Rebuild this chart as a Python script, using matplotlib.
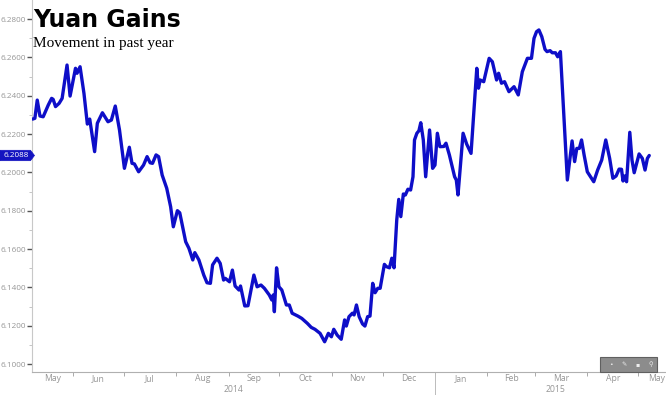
import matplotlib
matplotlib.use("Agg")
import matplotlib.pyplot as plt
import matplotlib.dates as mdates
from matplotlib.patches import Polygon, Rectangle
from matplotlib.transforms import blended_transform_factory, ScaledTranslation
import numpy as np
import pandas as pd

# ---------------- data ----------------
start_date = "2014-05-08"
days = [0.3,1.6,3.0,4.6,6.5,9.5,11.5,12.4,13.8,15.9,
        17.7,20.6,22.4,25.6,26.5,28.3,30.6,32.6,34.0,36.9,
        38.5,41.5,44.8,46.8,49.1,51.6,54.5,57.4,59.0,60.4,
        62.9,65.8,67.9,69.7,71.1,73.2,74.7,76.8,79.5,81.8,
        83.4,85.8,87.2,90.7,92.6,94.9,96.1,98.5,101.4,103.3,
        105.3,106.6,109.2,111.1,113.1,114.1,116.6,118.3,119.9,122.2,
        123.1,125.6,127.5,131.0,132.9,135.2,137.2,140.1,141.6,142.4,
        143.1,144.4,145.8,147.5,150.2,151.9,153.6,157.0,159.3,162.6,
        164.9,167.1,170.1,172.8,175.0,176.8,178.2,180.2,182.6,184.6,
        185.6,187.2,189.2,190.2,191.6,193.2,195.2,196.6,198.2,199.6,
        201.2,202.6,204.2,205.6,208.1,209.3,211.1,212.5,213.8,215.4,
        216.6,217.8,219.3,220.5,222.0,223.6,225.0,225.9,227.3,228.5,
        229.6,231.1,232.5,234.8,236.6,238.0,239.4,240.9,243.2,244.5,
        246.5,249.6,250.6,251.6,254.6,256.7,259.3,262.7,263.7,264.7,
        266.8,270.0,271.9,274.4,275.6,277.3,279.1,281.7,284.7,287.2,
        289.6,292.6,295.0,296.5,298.0,299.4,301.1,303.0,304.2,306.0,
        307.3,309.2,310.5,312.1,
        316.2,319.0,320.5,321.8,323.3,324.6,326.1,328.0,331.8,334.1,
        336.5,338.9,341.2,343.1,345.0,346.8,348.2,349.1,350.1,351.2,
        353.1,354.4,355.7,358.6,360.5,362.1,363.5,364.6]

rate = [6.2278,6.2282,6.2377,6.2294,6.2290,6.2351,6.2386,6.2381,6.2343,6.2360,
        6.2386,6.2560,6.2398,6.2543,6.2517,6.2551,6.2412,6.2252,6.2278,6.2108,
        6.2256,6.2311,6.2264,6.2273,6.2346,6.2221,6.2021,6.2131,6.2047,6.2044,
        6.2003,6.2038,6.2082,6.2050,6.2047,6.2091,6.2082,6.1986,6.1917,6.1821,
        6.1716,6.1800,6.1789,6.1638,6.1604,6.1543,6.1581,6.1543,6.1464,6.1424,
        6.1421,6.1517,6.1552,6.1525,6.1438,6.1447,6.1429,6.1490,6.1407,6.1386,
        6.1407,6.1303,6.1304,6.1464,6.1403,6.1412,6.1395,6.1360,6.1334,6.1360,
        6.1273,6.1502,6.1403,6.1386,6.1308,6.1308,6.1265,6.1250,6.1238,6.1212,
        6.1191,6.1181,6.1160,6.1116,6.1160,6.1142,6.1181,6.1151,6.1129,6.1230,
        6.1198,6.1247,6.1265,6.1256,6.1308,6.1247,6.1209,6.1198,6.1247,6.1250,
        6.1421,6.1372,6.1395,6.1395,6.1520,6.1508,6.1502,6.1552,6.1502,6.1751,
        6.1859,6.1769,6.1887,6.1882,6.1912,6.1908,6.1977,6.2169,6.2204,6.2217,
        6.2259,6.2169,6.1977,6.2221,6.2021,6.2038,6.2204,6.2134,6.2135,6.2152,
        6.2091,6.1977,6.1960,6.1882,6.2204,6.2148,6.2099,6.2543,6.2439,6.2482,
        6.2473,6.2595,6.2577,6.2482,6.2517,6.2465,6.2473,6.2421,6.2447,6.2404,
        6.2525,6.2595,6.2595,6.2699,6.2734,6.2743,6.2708,6.2642,6.2630,6.2635,
        6.2624,6.2624,6.2603,6.2630,
        6.1960,6.2164,6.2056,6.2125,6.2125,6.2169,6.2091,6.2003,6.1951,6.2012,
        6.2064,6.2169,6.2073,6.1969,6.1981,6.2017,6.2016,6.1955,6.1981,6.1951,
        6.2209,6.2064,6.1998,6.2096,6.2073,6.2012,6.2073,6.2088]

last_value = 6.2088
title = "Yuan Gains"
subtitle = "Movement in past year"
month_names = ["May", "Jun", "Jul", "Aug", "Sep", "Oct", "Nov", "Dec",
               "Jan", "Feb", "Mar", "Apr", "May"]
year_labels = ["2014", "2015"]
y_ticks = [6.10, 6.12, 6.14, 6.16, 6.18, 6.20, 6.22, 6.24, 6.26, 6.28]

# ---------------- figure ----------------
W, H = 666, 395
fig = plt.figure(figsize=(W / 100, H / 100), dpi=100)
fig.patch.set_facecolor("white")

ax_left, ax_right, ax_bottom, ax_top = 32, 676, 372, 0
ax = fig.add_axes([ax_left / W, (H - ax_bottom) / H,
                   (ax_right - ax_left) / W, (ax_bottom - ax_top) / H])
ax.set_facecolor("white")

t0 = pd.Timestamp(start_date)
x = t0 + pd.to_timedelta(days, unit="D")
ax.plot(x, rate, color="#0e0ec8", lw=2.4, solid_joinstyle="round",
        solid_capstyle="round", zorder=3)

xmin = t0 - pd.Timedelta(days=0.1)
xmax = t0 + pd.Timedelta(days=380.4)
ax.set_xlim(xmin, xmax)
ax.set_ylim(6.09583, 6.28993)

tick_font = "Open Sans"
gray = "#969696"
fs_y = 5.85
fs = 6.2

# y axis
ax.set_yticks(y_ticks)
ax.set_yticklabels([f"{v:.4f}" for v in y_ticks], fontsize=fs_y,
                   color=gray, family=tick_font)
ax.set_yticks([v + 0.01 for v in y_ticks[:-1]], minor=True)
ax.tick_params(axis="y", which="major", length=3.5, width=1.0,
               color="#555555", pad=1.0, direction="out")
ax.tick_params(axis="y", which="minor", length=2.5, width=0.6,
               color="#bbbbbb", direction="out")

# x axis: month boundaries as ticks, labels centred in month spans
month_starts = pd.date_range("2014-06-01", "2015-05-01", freq="MS")
ax.set_xticks(month_starts)
ax.set_xticklabels([])
ax.tick_params(axis="x", which="major", length=3, width=0.7,
               color="#aaaaaa", direction="out")
ax.tick_params(axis="x", which="minor", length=0)

bounds = [xmin] + list(month_starts) + [xmax]
xtrans = blended_transform_factory(ax.transData, fig.transFigure)
for name, a, b in zip(month_names, bounds[:-1], bounds[1:]):
    mid = a + (b - a) / 2
    ax.text(mdates.date2num(mid), (H - 378.5) / H, name, transform=xtrans,
            ha="center", va="center", fontsize=fs, color=gray,
            family=tick_font, clip_on=False)

jan1 = pd.Timestamp("2015-01-01")
year_spans = [(xmin, jan1), (jan1, xmax)]
for lbl, (a, b) in zip(year_labels, year_spans):
    mid = a + (b - a) / 2
    ax.text(mdates.date2num(mid), (H - 389) / H, lbl, transform=xtrans,
            ha="center", va="center", fontsize=fs, color=gray,
            family=tick_font, clip_on=False)
ax.plot([mdates.date2num(jan1)] * 2, [(H - 372) / H, 0], transform=xtrans,
        color="#bbbbbb", lw=0.7, clip_on=False)

for s in ["top", "right"]:
    ax.spines[s].set_visible(False)
ax.spines["left"].set_color("#c8c8c8")
ax.spines["bottom"].set_color("#b0b0b0")
ax.spines["left"].set_linewidth(0.8)
ax.spines["bottom"].set_linewidth(0.8)

# last value tag
anchor = blended_transform_factory(fig.transFigure, ax.transData)
tag_tr = fig.dpi_scale_trans + ScaledTranslation(0, last_value, anchor)
tag = Polygon([(0, -0.052), (0.305, -0.052), (0.345, 0), (0.305, 0.052),
               (0, 0.052)], closed=True, transform=tag_tr,
              facecolor="#1414c0", edgecolor="#1414c0", lw=0.5,
              clip_on=False, zorder=5)
fig.add_artist(tag)
fig.text(0.16, 0, f"{last_value:.4f}", transform=tag_tr, ha="center",
         va="center", fontsize=fs_y, color="white", family=tick_font,
         zorder=6)

# toolbar artifact (bottom right)
fig.add_artist(Rectangle((600 / W, (H - 372) / H), 57 / W, 15 / H,
                         transform=fig.transFigure, facecolor="#8c8c8c",
                         edgecolor="#606060", lw=0.8, zorder=6))
for xi, ch in zip([611, 624, 638, 651], ["•", "✎", "▪", "⚲"]):
    fig.text(xi / W, (H - 364.5) / H, ch, ha="center", va="center",
             fontsize=4.5, color="#eeeeee", family="DejaVu Sans", zorder=7)

# titles
fig.text(33 / W, (H - 27) / H, title, fontsize=17, fontweight="heavy",
         family="DejaVu Sans", color="black", va="baseline", ha="left")
fig.text(33 / W, (H - 47.5) / H, subtitle, fontsize=11,
         family="Liberation Serif", color="black", va="baseline", ha="left")

fig.savefig("out.png", dpi=100, facecolor="white")
